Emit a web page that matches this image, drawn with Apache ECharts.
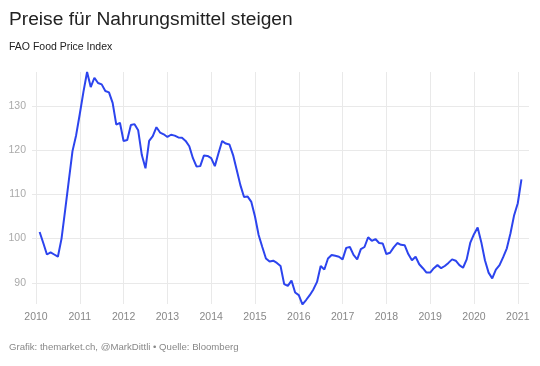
<!DOCTYPE html>
<html>
<head>
<meta charset="utf-8">
<script src="https://cdn.jsdelivr.net/npm/echarts@6/dist/echarts.min.js"></script>
<style>
html,body{margin:0;padding:0;background:#fff;}
#chart{width:540px;height:366px;}
</style>
</head>
<body>
<div id="chart"></div>
<script>
// Monthly FAO Food Price Index, Jan 2010 – Jan 2021
const startYear = 2010;
const values2010 = [101.5, 99.0, 96.4, 96.9, 96.4, 95.9, 100.0, 106.5, 113.2, 119.8, 123.4, 128.2];
const values2011 = [133.2, 137.7, 134.3, 136.4, 135.2, 134.9, 133.4, 133.1, 130.7, 125.8, 126.2, 122.1];
const values2012 = [122.3, 125.7, 125.9, 124.5, 118.9, 115.9, 122.1, 123.2, 125.2, 124.0, 123.6, 123.0];
const values2013 = [123.5, 123.3, 122.9, 122.8, 122.1, 120.9, 118.2, 116.3, 116.4, 118.8, 118.7, 118.2];
const values2014 = [116.4, 119.3, 122.1, 121.5, 121.3, 118.9, 115.5, 112.1, 109.4, 109.5, 108.3, 105.0];
const values2015 = [100.8, 98.1, 95.5, 94.8, 95.0, 94.5, 93.8, 89.7, 89.3, 90.5, 87.8, 87.2];
const values2016 = [85.1, 86.1, 87.2, 88.5, 90.2, 93.8, 93.0, 95.5, 96.3, 96.1, 95.9, 95.3];
const values2017 = [97.9, 98.1, 96.3, 95.3, 97.6, 98.1, 100.3, 99.5, 99.9, 99.0, 98.9, 96.5];
const values2018 = [96.8, 98.0, 99.0, 98.6, 98.5, 96.5, 95.1, 95.9, 94.2, 93.3, 92.3, 92.3];
const values2019 = [93.3, 94.0, 93.3, 93.8, 94.5, 95.3, 95.0, 94.0, 93.4, 95.3, 99.1, 101.0];
const values2020 = [102.5, 99.2, 95.1, 92.3, 91.0, 93.0, 94.0, 95.8, 97.8, 101.2, 105.3, 108.0];
const values2021 = [113.4];

const yTicks = [90, 100, 110, 120, 130];
const xTicks = [2010, 2011, 2012, 2013, 2014, 2015, 2016, 2017, 2018, 2019, 2020, 2021];

const titleText = 'Preise für Nahrungsmittel steigen';
const subtitleText = 'FAO Food Price Index';
const footerText = 'Grafik: themarket.ch, @MarkDittli • Quelle: Bloomberg';

const allValues = [].concat(values2010, values2011, values2012, values2013, values2014,
  values2015, values2016, values2017, values2018, values2019, values2020, values2021);
// each monthly value is dated at the end of its month
const seriesData = allValues.map((v, i) => [startYear + (i + 1) / 12, v]);

const chart = echarts.init(document.getElementById('chart'), null, {renderer: 'canvas'});
const FONT = '"Liberation Sans", Arial, Helvetica, sans-serif';
chart.setOption({
  animation: false,
  backgroundColor: '#ffffff',
  title: [
    {text: titleText, left: 9, top: 10, padding: 0, textStyle: {fontFamily: FONT, fontSize: 19.2, fontWeight: 'normal', color: '#222'}},
    {text: subtitleText, left: 9, top: 41.5, padding: 0, textStyle: {fontFamily: FONT, fontSize: 10.5, fontWeight: 'normal', color: '#222'}},
    {text: footerText, left: 9, top: 342, padding: 0, textStyle: {fontFamily: FONT, fontSize: 9.6, fontWeight: 'normal', color: '#888'}}
  ],
  grid: {left: 32, right: 11, top: 72, bottom: 62, containLabel: false},
  xAxis: {
    type: 'value',
    min: 2009.909,
    max: 2021.256,
    axisLine: {show: false},
    axisTick: {show: false, customValues: xTicks},
    axisLabel: {customValues: xTicks, formatter: v => String(Math.round(v)), color: '#888', fontFamily: FONT, fontSize: 10.5, margin: 8},
    splitLine: {show: true, lineStyle: {color: '#e9e9e9', width: 1}}
  },
  yAxis: {
    type: 'value',
    min: 85.2,
    max: 137.7,
    axisLine: {show: false},
    axisTick: {show: false, customValues: yTicks},
    axisLabel: {customValues: yTicks, formatter: v => String(Math.round(v)), color: '#aaa', fontFamily: FONT, fontSize: 10.5, margin: 6},
    splitLine: {show: true, lineStyle: {color: '#e9e9e9', width: 1}}
  },
  series: [{
    type: 'line',
    data: seriesData,
    showSymbol: false,
    symbol: 'none',
    lineStyle: {color: '#2c44ee', width: 2},
    itemStyle: {color: '#2c44ee'},
    z: 5
  }]
});
</script>
</body>
</html>
